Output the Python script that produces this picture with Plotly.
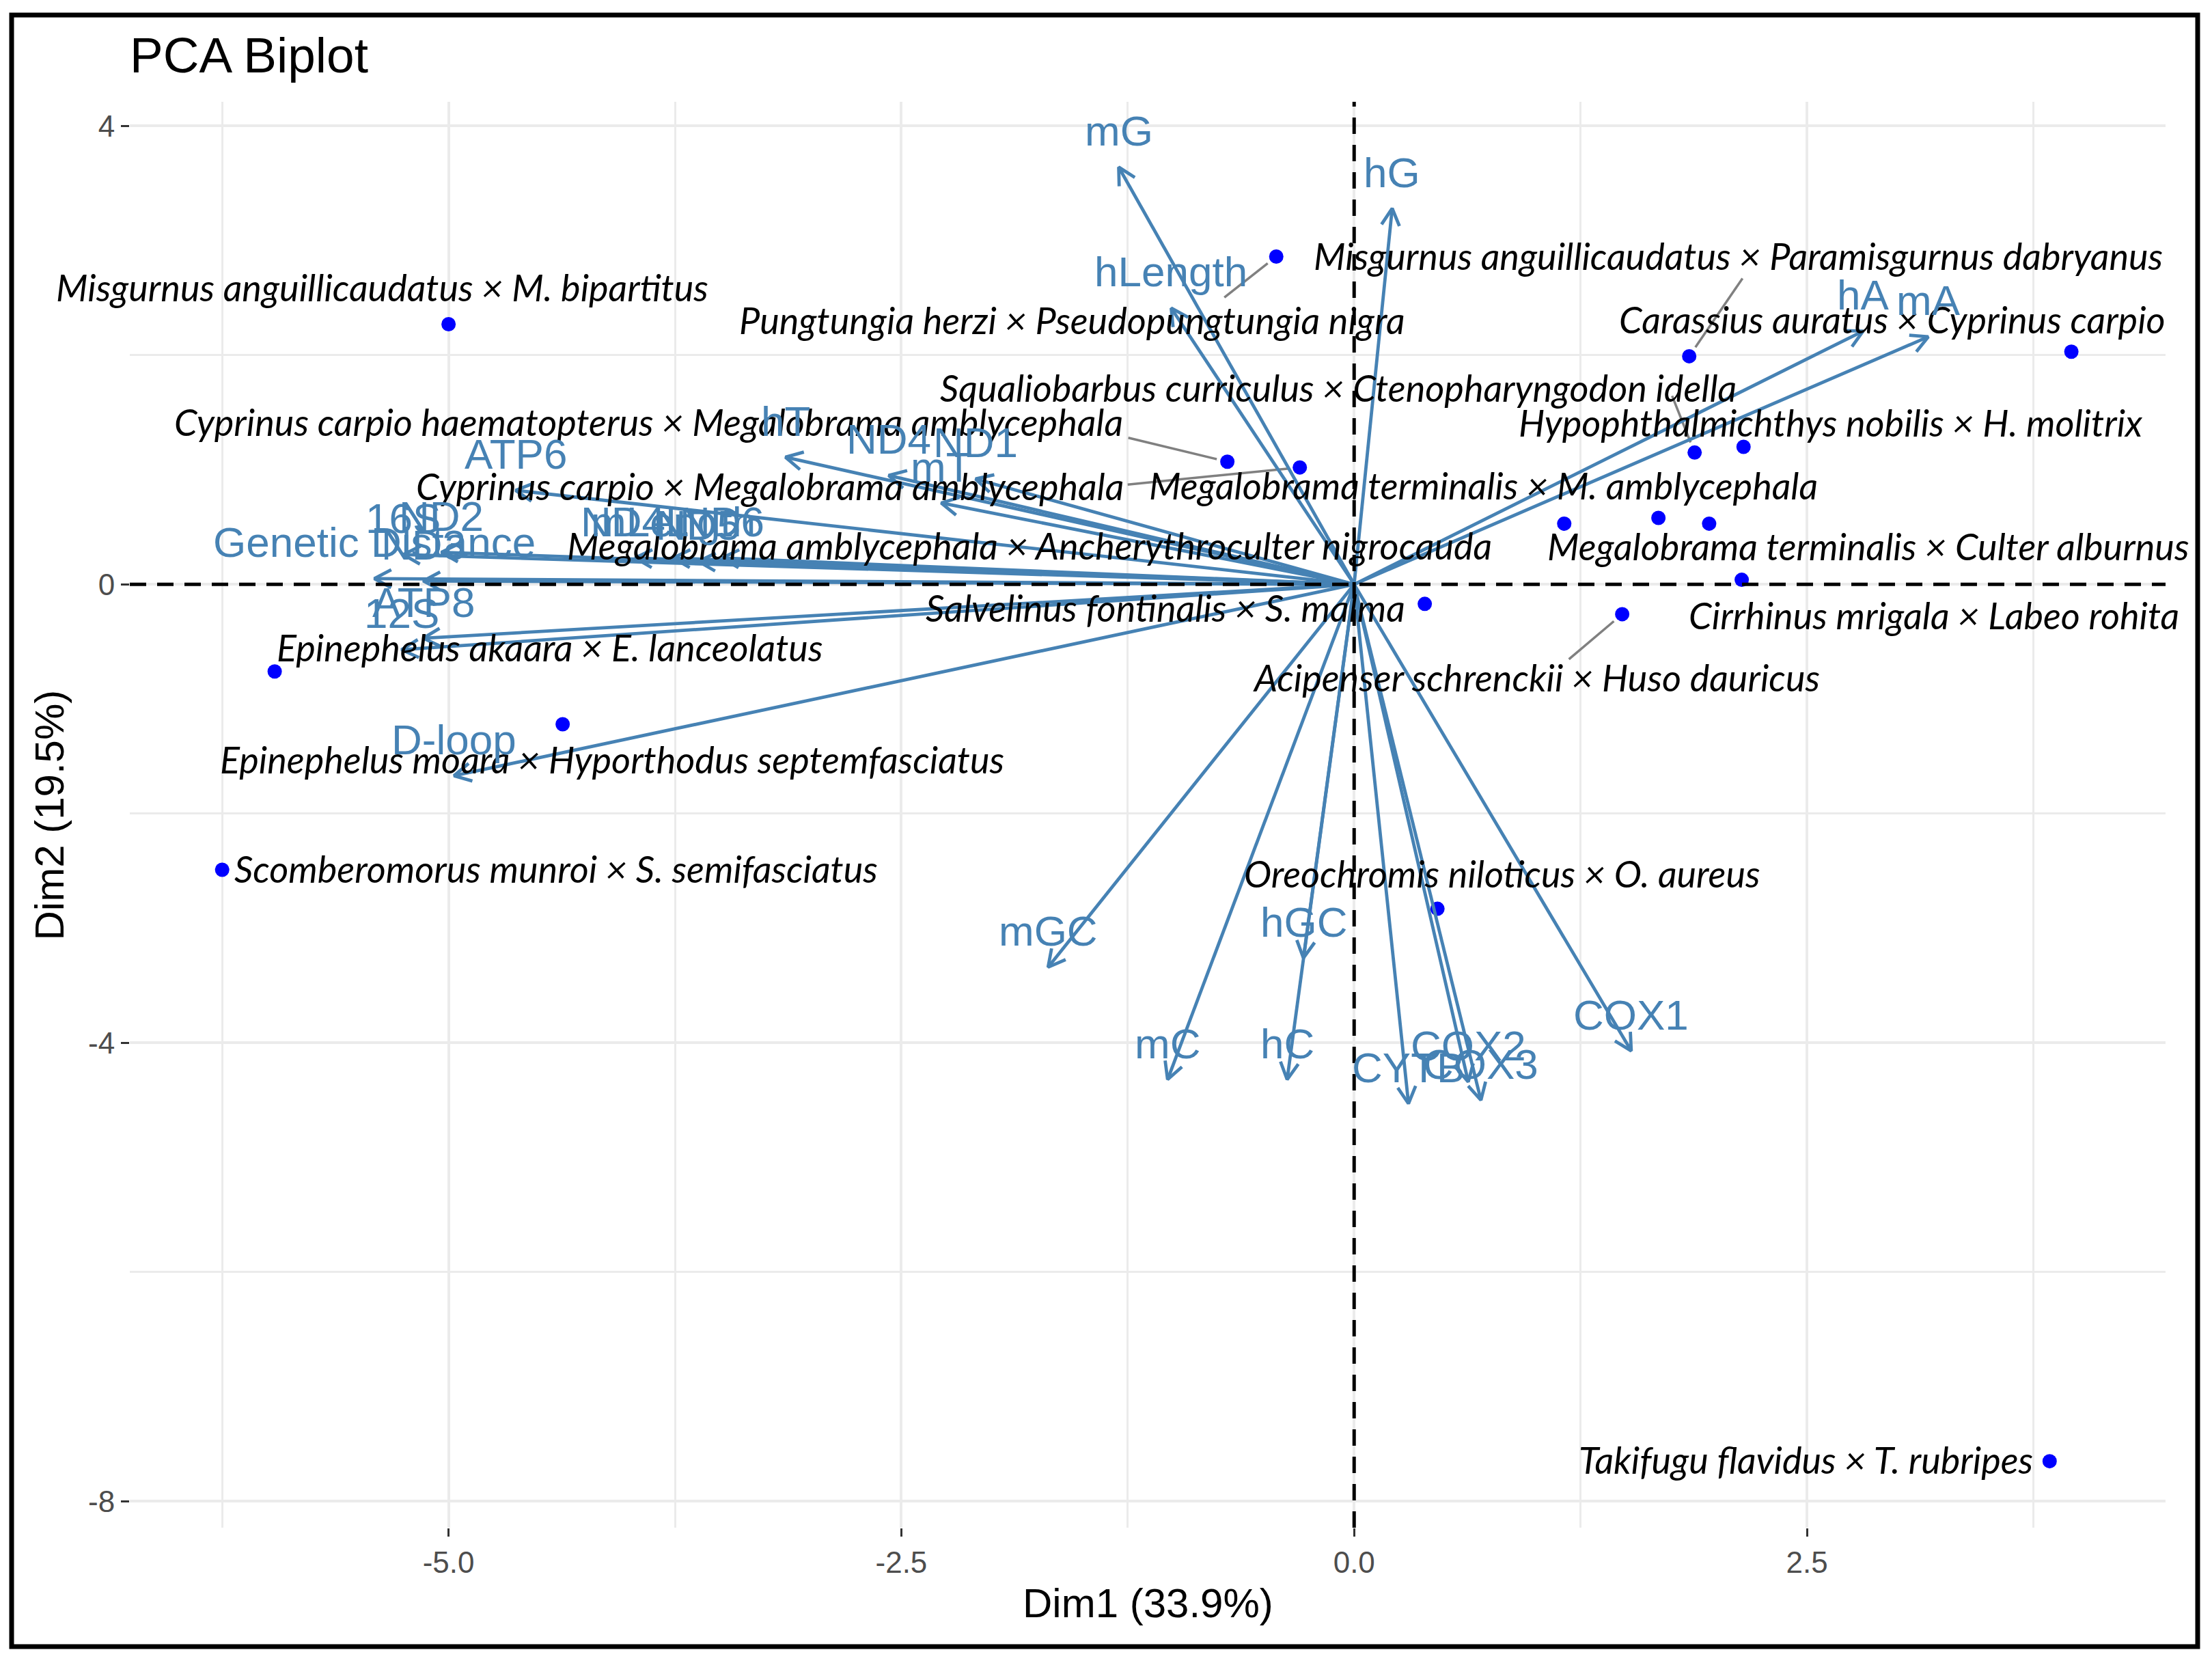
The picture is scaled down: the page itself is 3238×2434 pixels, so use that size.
import numpy as np
import plotly.graph_objects as go

# individuals (hybrid crosses) on the first two PCs
species = [
    "Misgurnus anguillicaudatus × M. bipartitus",
    "Pungtungia herzi × Pseudopungtungia nigra",
    "Misgurnus anguillicaudatus × Paramisgurnus dabryanus",
    "Carassius auratus × Cyprinus carpio",
    "Squaliobarbus curriculus × Ctenopharyngodon idella",
    "Cyprinus carpio haematopterus × Megalobrama amblycephala",
    "Hypophthalmichthys nobilis × H. molitrix",
    "Cyprinus carpio × Megalobrama amblycephala",
    "Megalobrama terminalis × M. amblycephala",
    "Megalobrama amblycephala × Ancherythroculter nigrocauda",
    "Megalobrama terminalis × Culter alburnus",
    "Cirrhinus mrigala × Labeo rohita",
    "Salvelinus fontinalis × S. malma",
    "Acipenser schrenckii × Huso dauricus",
    "Epinephelus akaara × E. lanceolatus",
    "Epinephelus moara × Hyporthodus septemfasciatus",
    "Scomberomorus munroi × S. semifasciatus",
    "Oreochromis niloticus × O. aureus",
    "Takifugu flavidus × T. rubripes",
]
ind_dim1 = [-5.00, -0.43, 1.85, 3.96, 1.88, -0.70, 2.15, -0.30, 1.16, 1.68,
            1.96, 2.14, 0.39, 1.48, -5.96, -4.37, -6.25, 0.46, 3.84]
ind_dim2 = [2.27, 2.86, 1.99, 2.03, 1.15, 1.07, 1.20, 1.02, 0.53, 0.58,
            0.53, 0.04, -0.17, -0.26, -0.76, -1.22, -2.49, -2.83, -7.65]

# variable loadings (arrow tips)
variables = ["mG", "hG", "hLength", "hA", "mA", "hT", "ND4", "ND1", "mT", "ATP6",
             "mLength", "ND4L", "ND5", "ND6", "Genetic Distance", "16S", "ND2", "ND3",
             "ATP8", "12S", "D-loop", "mGC", "hGC", "mC", "hC", "CYTB", "COX2", "COX3", "COX1"]
var_dim1 = [-1.30, 0.21, -1.01, 2.81, 3.17, -3.14, -2.57, -2.09, -2.28, -4.63,
            -3.76, -3.97, -3.62, -3.49, -5.41, -5.25, -5.04, -5.14,
            -5.14, -5.26, -4.97, -1.69, -0.28, -1.03, -0.37, 0.30, 0.63, 0.70, 1.53]
var_dim2 = [3.64, 3.28, 2.41, 2.21, 2.16, 1.11, 0.95, 0.92, 0.71, 0.82,
            0.23, 0.23, 0.20, 0.23, 0.05, 0.26, 0.28, 0.03,
            -0.47, -0.57, -1.67, -3.34, -3.26, -4.32, -4.32, -4.53, -4.34, -4.50, -4.07]

x_ticks = [-5.0, -2.5, 0.0, 2.5]
y_ticks = [-8, -4, 0, 4]

# label placement (pixels right / up from the point), as ggrepel left them
lab_dx = [-97, -299, 72, -262, -522, -847, 128, -776, -118, -921,
          233, 281, -380, -126, 403, 72, 489, 95, -357]
lab_dy = [54, -93, 147, 47, 95, 58, 35, -27, 56, -41,
          -33, -52, -6, -93, 35, -52, 2, 52, 2]
# segment end (pixels right / up from the point); None = no segment
seg_dx = [None, -76, 78, None, -33, -145, None, -252, None, None,
          None, None, None, -78, None, None, None, None, None]
seg_dy = [None, -60, 114, None, 83, 35, None, -25, None, None,
          None, None, None, -66, None, None, None, None, None]

# the page body has an 8px margin, so work in reference pixels minus that
OFF = 8
W, H = 3238, 2434
FW, FH = W - 2 * OFF, H - 2 * OFF
ML, MT = 190 - OFF, 149 - OFF
MR, MB = FW - (3170 - OFF), FH - (2236 - OFF)
XR = [-6.76, 4.48]
YR = [-8.23, 4.21]
pw, ph = FW - ML - MR, FH - MT - MB
sx = pw / (XR[1] - XR[0])
sy = ph / (YR[1] - YR[0])

STEEL = "#4682B4"
HEAD = 28

# arrows: shaft + open head, built in pixel space so the heads look right
ax_, ay_ = [], []
for tx, ty in zip(var_dim1, var_dim2):
    px, py = tx * sx, ty * sy
    n = np.hypot(px, py)
    ux, uy = px / n, py / n
    ax_ += [0, tx, None]
    ay_ += [0, ty, None]
    for a in (np.radians(28), -np.radians(28)):
        rx = ux * np.cos(a) - uy * np.sin(a)
        ry = ux * np.sin(a) + uy * np.cos(a)
        ax_.append(tx - HEAD * rx / sx)
        ay_.append(ty - HEAD * ry / sy)
        if a > 0:
            ax_.append(tx)
            ay_.append(ty)
    ax_.append(None)
    ay_.append(None)

# repel segments, from a small standoff at the point out to the label side
sgx, sgy = [], []
for x, y, dx, dy in zip(ind_dim1, ind_dim2, seg_dx, seg_dy):
    if dx is None:
        continue
    n = np.hypot(dx, dy)
    st = 16 / n
    sgx += [x + dx * st / sx, x + dx / sx, None]
    sgy += [y + dy * st / sy, y + dy / sy, None]

fig = go.Figure()
fig.add_trace(go.Scatter(
    x=sgx, y=sgy, mode="lines",
    line=dict(color="#808080", width=3.5), hoverinfo="skip",
))
fig.add_trace(go.Scatter(
    x=ind_dim1, y=ind_dim2, mode="markers",
    marker=dict(color="#0000FF", size=21), hoverinfo="text", text=species,
))
fig.add_trace(go.Scatter(
    x=ax_, y=ay_, mode="lines",
    line=dict(color=STEEL, width=4.8), hoverinfo="skip",
))

ann = []
for name, x, y, dx, dy in zip(species, ind_dim1, ind_dim2, lab_dx, lab_dy):
    ann.append(dict(x=x, y=y, text=name, showarrow=False, xshift=dx, yshift=dy,
                    font=dict(family="Lato", size=54, color="black", style="italic")))

for name, x, y in zip(variables, var_dim1, var_dim2):
    ann.append(dict(x=x, y=y, text=name, showarrow=False, yshift=53,
                    font=dict(family="Liberation Sans", size=62, color=STEEL)))

ann.append(dict(xref="paper", yref="paper", x=0.5, y=-(2346 - 2236) / ph, text="Dim1 (33.9%)",
                showarrow=False, yanchor="middle",
                font=dict(family="Liberation Sans", size=60, color="black")))
ann.append(dict(xref="paper", yref="paper", x=(72 - 190) / pw, y=0.5, text="Dim2 (19.5%)",
                showarrow=False, textangle=-90, xanchor="center",
                font=dict(family="Liberation Sans", size=60, color="black")))

shapes = [
    dict(type="line", xref="x", yref="paper", x0=0, x1=0, y0=0, y1=1,
         line=dict(color="black", width=5, dash="24px,16px")),
    dict(type="line", xref="paper", yref="y", x0=0, x1=1, y0=0, y1=0,
         line=dict(color="black", width=5, dash="24px,16px")),
    dict(type="rect", xref="paper", yref="paper",
         x0=(17 - 190) / pw, x1=(3217 - 190) / pw,
         y0=(2236 - 2410) / ph, y1=(2236 - 22) / ph,
         line=dict(color="black", width=7), fillcolor="rgba(0,0,0,0)"),
]

axis_common = dict(
    showgrid=True, gridcolor="#EBEBEB", gridwidth=4, zeroline=False, showline=False,
    ticks="outside", ticklen=12, tickwidth=3, tickcolor="#333333",
    tickfont=dict(family="Liberation Sans", size=44, color="#4D4D4D"),
    minor=dict(showgrid=True, gridcolor="#EBEBEB", gridwidth=3),
)

fig.update_layout(
    width=FW, height=FH,
    margin=dict(l=ML, r=MR, t=MT, b=MB),
    paper_bgcolor="white", plot_bgcolor="white",
    showlegend=False,
    title=dict(text="PCA Biplot", x=0.0, xref="paper", xanchor="left",
               y=1 - (80 - OFF) / FH, yref="container", yanchor="middle",
               font=dict(family="Liberation Sans", size=73, color="black")),
    xaxis=dict(axis_common, range=XR, tickvals=x_ticks,
               ticktext=[f"{v:.1f}" for v in x_ticks],
               minor=dict(axis_common["minor"], tickvals=[-6.25, -3.75, -1.25, 1.25, 3.75])),
    yaxis=dict(axis_common, range=YR, tickvals=y_ticks,
               ticktext=[str(v) for v in y_ticks],
               minor=dict(axis_common["minor"], tickvals=[-6, -2, 2])),
    annotations=ann,
    shapes=shapes,
)

fig.write_html("out.html")
